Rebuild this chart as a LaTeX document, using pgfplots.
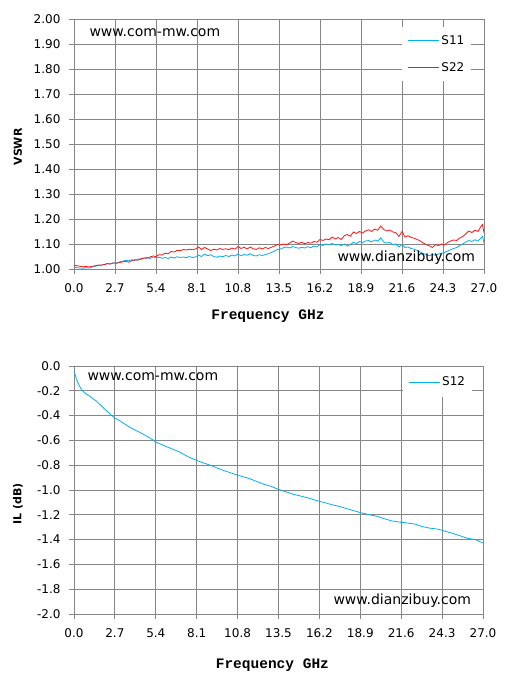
\documentclass[border=0pt]{standalone}
\usepackage{fontspec}
\setmainfont{DejaVu Sans}
\newfontfamily\monob{Liberation Mono}
\usepackage{pgfplots}
\pgfplotsset{compat=1.18}
\definecolor{sblue}{RGB}{0,176,240}
\definecolor{sred}{RGB}{255,20,20}
\definecolor{gridc}{RGB}{134,134,134}
\pgfplotsset{
  common/.style={
    scale only axis, anchor=south west,
    xmin=0, xmax=27,
    xtick={0,2.7,5.4,8.1,10.8,13.5,16.2,18.9,21.6,24.3,27},
    grid=major,
    major grid style={gridc, line width=0.9pt},
    axis line style={gridc, line width=0.9pt},
    tick style={gridc, line width=0.9pt},
    major tick length=5pt, tick align=outside,
    xtick pos=lower, ytick pos=left,
    /pgf/number format/assume math mode=true,
    ticklabel style={font=\fontsize{12}{12}\selectfont, text=black},
    xticklabel style={yshift=-6pt},
    yticklabel style={xshift=-5pt},
    xticklabel={\pgfmathprintnumber[fixed,fixed zerofill,precision=1]{\tick}},
    legend cell align=left,
    legend image code/.code={\draw[#1, line width=1.2pt] plot coordinates {(0pt,0pt) (31pt,0pt)};},
    xlabel={\monob\bfseries Frequency GHz},
    label style={font=\fontsize{14.5}{14.5}\selectfont},
  }
}
\begin{document}
\begin{tikzpicture}
\path[fill=white] (0pt,0pt) rectangle (505pt,687pt);
\begin{axis}[common, at={(74pt,418pt)}, width=410pt, height=250pt,
  ymin=1, ymax=2, ytick={1,1.1,...,2.01},
  yticklabel={\pgfmathprintnumber[fixed,fixed zerofill,precision=2]{\tick}},
  xlabel style={at={(axis description cs:0.473,-0.188)}, anchor=center},
  ylabel={\bfseries VSWR},
  ylabel style={at={(axis description cs:-0.137,0.488)}, anchor=center, font=\fontsize{11}{11}\selectfont},
  legend style={at={(0.8,0.968)}, anchor=north west, draw=none, fill=white,
    font=\fontsize{12}{12}\selectfont, inner xsep=5pt, inner ysep=0pt,
    nodes={minimum height=27pt, inner xsep=2pt}},
]
\addplot[color=sblue, line width=0.8pt] coordinates {
(0.0,1.007)(0.2,1.005)(0.4,1.004)(0.6,1.003)(0.8,1.005)(1.0,1.004)(1.2,1.008)(1.4,1.011)(1.6,1.014)(1.8,1.016)
(2.0,1.018)(2.2,1.022)(2.4,1.020)(2.6,1.025)(2.8,1.024)(3.0,1.028)(3.2,1.031)(3.4,1.035)(3.6,1.033)(3.8,1.037)
(4.0,1.034)(4.2,1.040)(4.4,1.038)(4.6,1.043)(4.8,1.046)(5.0,1.042)(5.2,1.048)(5.4,1.045)(5.6,1.047)(5.8,1.043)
(6.0,1.046)(6.2,1.042)(6.4,1.048)(6.6,1.044)(6.8,1.049)(7.0,1.046)(7.2,1.048)(7.4,1.045)(7.6,1.050)(7.8,1.046)
(8.0,1.048)(8.2,1.056)(8.4,1.050)(8.6,1.060)(8.8,1.053)(9.0,1.057)(9.2,1.050)(9.4,1.047)(9.6,1.052)(9.8,1.049)
(10.0,1.054)(10.2,1.050)(10.4,1.056)(10.6,1.052)(10.8,1.060)(11.0,1.053)(11.2,1.058)(11.4,1.055)(11.6,1.061)(11.8,1.054)
(12.0,1.052)(12.2,1.057)(12.4,1.054)(12.6,1.058)(12.8,1.061)(13.0,1.066)(13.2,1.072)(13.4,1.078)(13.6,1.080)(13.8,1.085)
(14.0,1.088)(14.2,1.084)(14.4,1.090)(14.6,1.086)(14.8,1.083)(15.0,1.087)(15.2,1.084)(15.4,1.089)(15.6,1.085)(15.8,1.092)
(16.0,1.088)(16.2,1.098)(16.4,1.094)(16.6,1.100)(16.8,1.097)(17.0,1.102)(17.2,1.096)(17.4,1.099)(17.6,1.093)(17.8,1.100)
(18.0,1.091)(18.2,1.098)(18.4,1.107)(18.6,1.102)(18.8,1.110)(19.0,1.106)(19.2,1.112)(19.4,1.114)(19.6,1.108)(19.8,1.116)
(20.0,1.112)(20.2,1.124)(20.4,1.108)(20.6,1.104)(20.8,1.106)(21.0,1.098)(21.2,1.100)(21.4,1.088)(21.6,1.098)(21.8,1.086)
(22.0,1.088)(22.2,1.082)(22.4,1.079)(22.6,1.074)(22.8,1.068)(23.0,1.062)(23.2,1.057)(23.4,1.053)(23.6,1.058)(23.8,1.055)
(24.0,1.060)(24.2,1.063)(24.4,1.066)(24.6,1.072)(24.8,1.077)(25.0,1.082)(25.2,1.086)(25.4,1.094)(25.6,1.100)(25.8,1.108)
(26.0,1.114)(26.2,1.110)(26.4,1.117)(26.6,1.112)(26.8,1.124)(26.9,1.130)(27.0,1.105)
};
\addlegendentry{S11}
\addplot[color=sred, line width=0.8pt] coordinates {
(0.0,1.015)(0.2,1.013)(0.4,1.011)(0.6,1.009)(0.8,1.010)(1.0,1.008)(1.2,1.011)(1.4,1.013)(1.6,1.016)(1.8,1.015)
(2.0,1.018)(2.2,1.021)(2.4,1.020)(2.6,1.024)(2.8,1.023)(3.0,1.026)(3.2,1.028)(3.4,1.031)(3.6,1.027)(3.8,1.033)
(4.0,1.037)(4.2,1.035)(4.4,1.041)(4.6,1.044)(4.8,1.043)(5.0,1.048)(5.2,1.052)(5.4,1.050)(5.6,1.057)(5.8,1.056)
(6.0,1.063)(6.2,1.061)(6.4,1.070)(6.6,1.068)(6.8,1.075)(7.0,1.073)(7.2,1.078)(7.4,1.076)(7.6,1.079)(7.8,1.077)
(8.0,1.080)(8.2,1.088)(8.4,1.078)(8.6,1.086)(8.8,1.080)(9.0,1.074)(9.2,1.079)(9.4,1.076)(9.6,1.082)(9.8,1.078)
(10.0,1.081)(10.2,1.077)(10.4,1.084)(10.6,1.079)(10.8,1.090)(11.0,1.082)(11.2,1.087)(11.4,1.080)(11.6,1.088)(11.8,1.081)
(12.0,1.078)(12.2,1.085)(12.4,1.080)(12.6,1.086)(12.8,1.082)(13.0,1.087)(13.2,1.092)(13.4,1.098)(13.6,1.096)(13.8,1.100)
(14.0,1.097)(14.2,1.104)(14.4,1.112)(14.6,1.106)(14.8,1.102)(15.0,1.107)(15.2,1.101)(15.4,1.106)(15.6,1.103)(15.8,1.110)
(16.0,1.107)(16.2,1.118)(16.4,1.114)(16.6,1.120)(16.8,1.117)(17.0,1.128)(17.2,1.120)(17.4,1.126)(17.6,1.118)(17.8,1.133)
(18.0,1.138)(18.2,1.131)(18.4,1.148)(18.6,1.142)(18.8,1.150)(19.0,1.144)(19.2,1.152)(19.4,1.157)(19.6,1.150)(19.8,1.160)
(20.0,1.155)(20.2,1.172)(20.4,1.158)(20.6,1.152)(20.8,1.156)(21.0,1.148)(21.2,1.145)(21.4,1.130)(21.6,1.150)(21.8,1.128)
(22.0,1.133)(22.2,1.126)(22.4,1.123)(22.6,1.118)(22.8,1.112)(23.0,1.104)(23.2,1.097)(23.4,1.093)(23.6,1.086)(23.8,1.097)
(24.0,1.094)(24.2,1.100)(24.4,1.096)(24.6,1.106)(24.8,1.112)(25.0,1.116)(25.2,1.114)(25.4,1.124)(25.6,1.130)(25.8,1.140)
(26.0,1.152)(26.2,1.146)(26.4,1.155)(26.6,1.150)(26.8,1.170)(26.9,1.178)(27.0,1.145)
};
\addlegendentry{S22}
\end{axis}
\node[anchor=west, font=\fontsize{14}{14}\selectfont] at (86pt,654pt) {www.com-mw.com};
\node[anchor=west, font=\fontsize{14}{14}\selectfont] at (334pt,429pt) {www.dianzibuy.com};
\begin{axis}[common, at={(74pt,73pt)}, width=409pt, height=248pt,
  ymin=-2, ymax=0, ytick={-2,-1.8,...,0.01},
  yticklabel={\pgfmathprintnumber[fixed,fixed zerofill,precision=1]{\tick}},
  xlabel style={at={(axis description cs:0.485,-0.206)}, anchor=center},
  ylabel={\bfseries IL (dB)},
  ylabel style={at={(axis description cs:-0.137,0.444)}, anchor=center, font=\fontsize{11}{11}\selectfont},
  legend style={at={(0.804,0.996)}, anchor=north west, draw=none, fill=white,
    font=\fontsize{12}{12}\selectfont, inner xsep=5pt, inner ysep=2pt,
    nodes={minimum height=26pt, inner xsep=2pt}},
]
\addplot[color=sblue, line width=0.8pt] coordinates {
(0,-0.045)(0.1,-0.08)(0.2,-0.12)(0.4,-0.17)(0.6,-0.205)(0.8,-0.225)(1.0,-0.24)(1.5,-0.285)(2.0,-0.345)(2.5,-0.40)
(2.7,-0.42)(3.0,-0.44)(3.5,-0.48)(4.0,-0.515)(4.5,-0.545)(5.0,-0.58)(5.4,-0.612)(6.0,-0.645)(6.5,-0.67)(7.0,-0.695)
(7.5,-0.73)(8.1,-0.762)(8.5,-0.78)(9.0,-0.80)(9.5,-0.825)(10.0,-0.848)(10.5,-0.868)(10.8,-0.88)(11.5,-0.905)(12.0,-0.928)
(12.5,-0.952)(13.0,-0.97)(13.5,-0.995)(14.0,-1.015)(14.5,-1.035)(15.0,-1.05)(15.5,-1.065)(16.2,-1.092)(16.5,-1.10)(17.0,-1.118)
(17.5,-1.132)(18.0,-1.15)(18.5,-1.168)(18.9,-1.182)(19.5,-1.20)(20.0,-1.212)(20.5,-1.232)(21.0,-1.25)(21.6,-1.26)(22.0,-1.266)
(22.5,-1.275)(23.0,-1.295)(23.5,-1.308)(24.0,-1.315)(24.3,-1.325)(25.0,-1.35)(25.5,-1.37)(26.0,-1.39)(26.5,-1.40)(27.0,-1.428)
};
\addlegendentry{S12}
\end{axis}
\node[anchor=west, font=\fontsize{14}{14}\selectfont] at (84pt,310pt) {www.com-mw.com};
\node[anchor=west, font=\fontsize{14}{14}\selectfont] at (330pt,86pt) {www.dianzibuy.com};
\end{tikzpicture}
\end{document}
